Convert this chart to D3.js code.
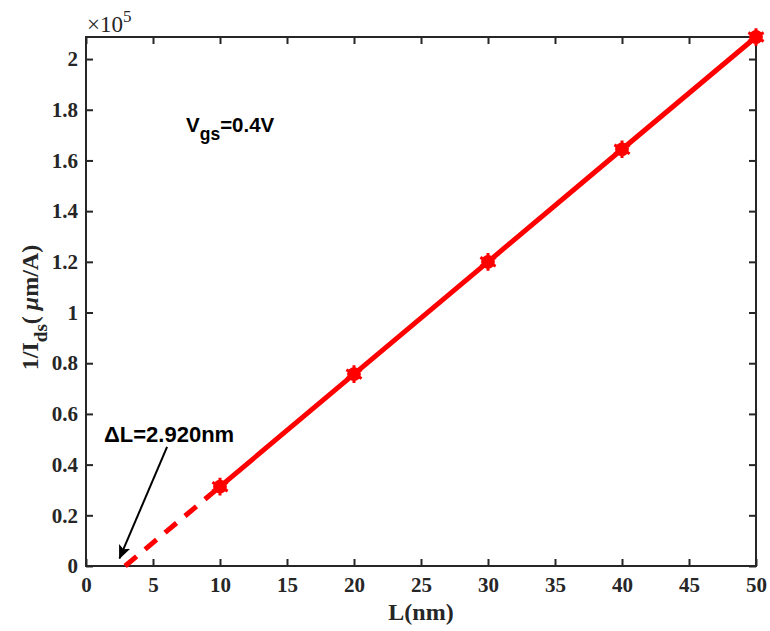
<!DOCTYPE html>
<html lang="en">
<head>
<meta charset="utf-8">
<script src="https://cdn.jsdelivr.net/npm/d3@7"></script>
<style>
  body { margin:0; background:#fff; }
  text { fill:#262626; }
</style>
</head>
<body>
<script>
var lengths = [10, 20, 30, 40, 50]
var invIds = [0.313, 0.757, 1.200, 1.644, 2.087]   // x 1e5
var deltaL = 2.920
var xTicks = [0, 5, 10, 15, 20, 25, 30, 35, 40, 45, 50]
var yTicks = [0, 0.2, 0.4, 0.6, 0.8, 1, 1.2, 1.4, 1.6, 1.8, 2]
var arrowFrom = [6.05, 0.47]
var arrowTo = [2.5, 0.03]

var width = 770, height = 631
var m = {left:86, right:14, top:37, bottom:65}

var svg = d3.select("body").append("svg")
  .attr("width", width).attr("height", height)

var x = d3.scaleLinear().domain([0, 50]).range([m.left, width - m.right])
var y = d3.scaleLinear().domain([0, 2.087]).range([height - m.bottom, m.top])

var defs = svg.append("defs")
defs.append("marker").attr("id","ah")
  .attr("viewBox","0 0 14 12").attr("refX",13).attr("refY",6)
  .attr("markerWidth",14).attr("markerHeight",12).attr("orient","auto")
  .attr("markerUnits","userSpaceOnUse")
  .append("path").attr("d","M0,0 L14,6 L0,12 L3,6 Z")
  .attr("fill","#000")

// axes, inward ticks on all four sides
function styleAxis(g) {
  g.select(".domain").remove()
  g.selectAll(".tick line").attr("stroke","#262626").attr("stroke-width",2)
  g.selectAll(".tick text").attr("font-family","Liberation Serif, Times New Roman, serif")
    .attr("font-weight","bold").attr("font-size",21).attr("fill","#262626")
}
svg.append("g").attr("transform","translate(0," + y(0) + ")")
  .call(d3.axisBottom(x).tickValues(xTicks).tickSize(-7).tickPadding(11))
  .call(styleAxis)
svg.append("g").attr("transform","translate(0," + m.top + ")")
  .call(d3.axisTop(x).tickValues(xTicks).tickSize(-7).tickFormat(""))
  .call(styleAxis)
svg.append("g").attr("transform","translate(" + x(0) + ",0)")
  .call(d3.axisLeft(y).tickValues(yTicks).tickSize(-7).tickPadding(8).tickFormat(d3.format("~g")))
  .call(styleAxis)
svg.append("g").attr("transform","translate(" + x(50) + ",0)")
  .call(d3.axisRight(y).tickValues(yTicks).tickSize(-7).tickFormat(""))
  .call(styleAxis)

svg.append("rect").attr("x", x(0)).attr("y", m.top)
  .attr("width", x(50) - x(0)).attr("height", y(0) - m.top)
  .attr("fill","none").attr("stroke","#262626").attr("stroke-width",2)

// extrapolated part
svg.append("line")
  .attr("x1", x(deltaL)).attr("y1", y(0))
  .attr("x2", x(lengths[0])).attr("y2", y(invIds[0]))
  .attr("stroke","red").attr("stroke-width",5).attr("stroke-dasharray","15,11")

var line = d3.line().x(function(d,i){ return x(lengths[i]) }).y(function(d){ return y(d) })
svg.append("path").datum(invIds).attr("d", line)
  .attr("fill","none").attr("stroke","red").attr("stroke-width",5)

svg.selectAll(".pt").data(invIds).enter().append("path").attr("class","pt")
  .attr("transform", function(d,i){ return "translate(" + x(lengths[i]) + "," + y(d) + ")" })
  .attr("d", d3.symbol().type(d3.symbolCircle).size(150))
  .attr("fill","red")
svg.selectAll(".st").data(invIds).enter().append("path").attr("class","st")
  .attr("transform", function(d,i){ return "translate(" + x(lengths[i]) + "," + y(d) + ")" })
  .attr("d", d3.symbol().type(d3.symbolAsterisk).size(220))
  .attr("stroke","red").attr("stroke-width",3)

// exponent
var ex = svg.append("text").attr("x", x(0) + 1).attr("y", 32)
  .attr("font-family","Liberation Serif, Times New Roman, serif").attr("font-size",23)
ex.append("tspan").text("×10")
ex.append("tspan").attr("dy",-10).attr("font-size",17).text("5")

// axis labels
svg.append("text").attr("x", (x(0) + x(50)) / 2).attr("y", 620)
  .attr("text-anchor","middle")
  .attr("font-family","Liberation Serif, Times New Roman, serif")
  .attr("font-weight","bold").attr("font-size",24).text("L(nm)")

var yl = svg.append("text").attr("transform","translate(38," + ((y(0) + m.top) / 2 + 6) + ") rotate(-90)")
  .attr("text-anchor","middle")
  .attr("font-family","Liberation Serif, Times New Roman, serif")
  .attr("font-weight","bold").attr("font-size",24)
yl.append("tspan").text("1/I")
yl.append("tspan").attr("dy",9).attr("font-size",19).text("ds")
yl.append("tspan").attr("dy",-9).text("( ")
yl.append("tspan").attr("font-style","italic").text("μ")
yl.append("tspan").text("m/A)")

// annotations
var vg = svg.append("text").attr("x",186).attr("y",132)
  .attr("font-family","Liberation Sans, Arial, sans-serif").attr("font-weight","bold").attr("font-size",20.5)
  .style("fill","#000")
vg.append("tspan").text("V")
vg.append("tspan").attr("dy",8).attr("font-size",17.5).text("gs")
vg.append("tspan").attr("dy",-8).text("=0.4V")

svg.append("text").attr("x",104).attr("y",442)
  .attr("font-family","Liberation Sans, Arial, sans-serif").attr("font-weight","bold").attr("font-size",22)
  .style("fill","#000").text("ΔL=2.920nm")

svg.append("line")
  .attr("x1", x(arrowFrom[0])).attr("y1", y(arrowFrom[1]))
  .attr("x2", x(arrowTo[0])).attr("y2", y(arrowTo[1]))
  .attr("stroke","#000").attr("stroke-width",2).attr("marker-end","url(#ah)")
</script>
</body>
</html>
